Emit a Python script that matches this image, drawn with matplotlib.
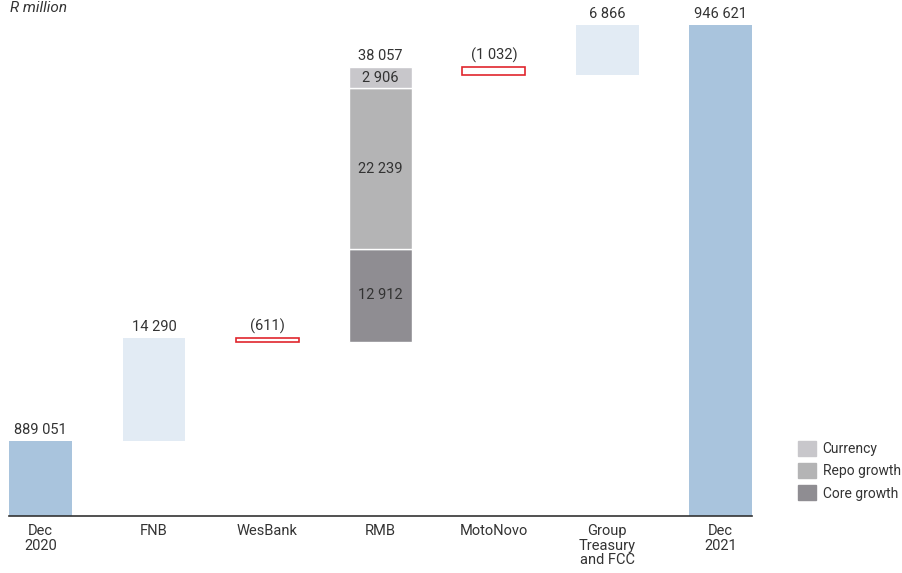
import numpy as np
import matplotlib.pyplot as plt
from matplotlib.patches import Patch

plt.rcParams['font.family'] = ['Roboto', 'DejaVu Sans']

categories = ['Dec\n2020', 'FNB', 'WesBank', 'RMB', 'MotoNovo', 'Group\nTreasury\nand FCC', 'Dec\n2021']
start_value = 889051
end_value = 946621
changes = [14290, -611, 38057, -1032, 6866]
rmb_core = 12912
rmb_repo = 22239
rmb_currency = 2906

blue = '#a9c4dd'
light_blue = '#e2ebf4'
red = '#e0262d'
c_currency = '#c8c7cb'
c_repo = '#b4b4b5'
c_core = '#8f8d92'
text_col = '#333333'
fs = 10.5

fig = plt.figure(figsize=(9.03, 5.73), dpi=100)
ax = fig.add_axes([0.00997, 0.0995, 0.8231, 0.9005])
ax.set_xlim(-0.28, 6.28)
ax.set_ylim(878672, 950081)

x = np.arange(len(categories))
w = 0.555

def fmt(v):
    s = f'{abs(v):,}'.replace(',', ' ')
    return f'({s})' if v < 0 else s

def top_label(xi, y, s):
    ax.annotate(s, (xi, y), xytext=(0, 3), textcoords='offset points',
                ha='center', va='bottom', fontsize=fs, color=text_col)

# start and end totals
ax.bar(x[0], start_value - 878672, bottom=878672, width=w, color=blue)
top_label(x[0], start_value, fmt(start_value))
ax.bar(x[6], end_value - 878672, bottom=878672, width=w, color=blue)
top_label(x[6], end_value, fmt(end_value))

level = start_value
for i, ch in enumerate(changes, start=1):
    if i == 3:
        # RMB split into core, repo and currency
        b = level
        for val, col in [(rmb_core, c_core), (rmb_repo, c_repo), (rmb_currency, c_currency)]:
            ax.bar(x[i], val, bottom=b, width=w, color=col, edgecolor='white', linewidth=1)
            ax.text(x[i], b + val / 2, fmt(val), ha='center', va='center',
                    fontsize=fs, color=text_col)
            b += val
        top_label(x[i], level + ch, fmt(ch))
    elif ch < 0:
        ax.bar(x[i], -ch, bottom=level + ch, width=w, facecolor='white',
               edgecolor=red, linewidth=1.2)
        top_label(x[i], level, fmt(ch))
    else:
        ax.bar(x[i], ch, bottom=level, width=w, color=light_blue)
        top_label(x[i], level + ch, fmt(ch))
    level += ch

ax.set_xticks(x)
ax.set_xticklabels(categories, fontsize=fs, color=text_col, linespacing=1.05)
ax.tick_params(axis='x', length=0, pad=6)
ax.set_yticks([])
for side in ['top', 'left', 'right']:
    ax.spines[side].set_visible(False)
ax.spines['bottom'].set_color('#333333')
ax.spines['bottom'].set_linewidth(1.2)

fig.text(0.011, 1 - 12 / 573, 'R million', style='italic', fontsize=11,
         color=text_col, va='baseline', ha='left')

handles = [Patch(color=c_currency), Patch(color=c_repo), Patch(color=c_core)]
fig.legend(handles, ['Currency', 'Repo growth', 'Core growth'],
           loc='upper left', bbox_to_anchor=(0.884, 1 - 441 / 573),
           frameon=False, fontsize=10, handlelength=1.3, handleheight=1.3,
           handletextpad=0.45, labelspacing=0.5, borderaxespad=0,
           borderpad=0, labelcolor=text_col)

fig.savefig('out.png', dpi=100)
